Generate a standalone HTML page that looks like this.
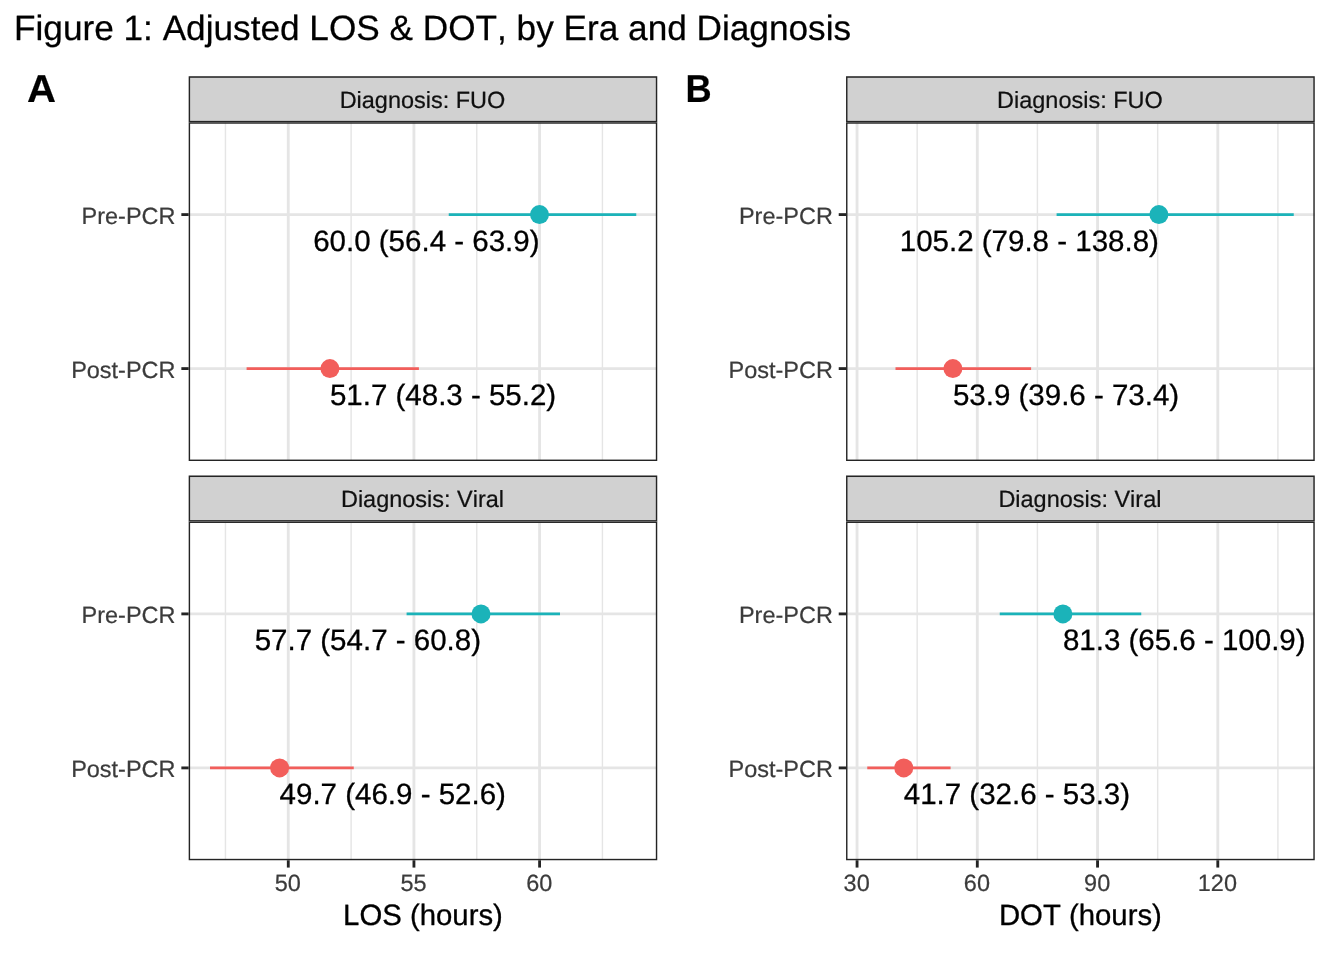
<!DOCTYPE html>
<html lang="en"><head><meta charset="utf-8"><title>Figure 1: Adjusted LOS &amp; DOT, by Era and Diagnosis</title>
<style>
html,body{margin:0;padding:0;background:#fff;}
body{width:1344px;height:960px;overflow:hidden;}
svg{display:block;font-family:"Liberation Sans",Arial,Helvetica,sans-serif;font-kerning:none;text-rendering:geometricPrecision;}
text{font-kerning:none;font-feature-settings:"kern" 0,"liga" 0;stroke-width:0.3;stroke-linejoin:round;}
.grid{stroke:#E5E5E5;fill:none;}
.bd{stroke:#242424;fill:none;}
.strip{fill:#D1D1D1;stroke:#242424;}
.tick{stroke:#242424;fill:none;}
.ax{fill:#3B3B3B;stroke:#3B3B3B;stroke-width:0.22;font-size:23.47px;}
.st{fill:#101010;stroke:#101010;stroke-width:0.22;font-size:23.47px;text-anchor:middle;}
.lab{fill:#000;stroke:#000;font-size:29.5px;}
.xt{fill:#000;stroke:#000;font-size:29.33px;text-anchor:middle;}
.title{fill:#000;stroke:#000;stroke-width:0.25;font-size:35.2px;}
.tag{fill:#000;stroke:#000;stroke-width:0.2;font-weight:bold;}
</style></head><body>
<svg width="1344" height="960" viewBox="0 0 1344 960">
<rect x="0" y="0" width="1344" height="960" fill="#ffffff"/>
<defs>
<clipPath id="cp00"><rect x="188.68" y="122.3" width="468.57" height="338.7"/></clipPath>
<clipPath id="cs00"><rect x="188.68" y="76.35" width="468.57" height="45.95"/></clipPath>
<clipPath id="cp01"><rect x="188.68" y="521.55" width="468.57" height="338.7"/></clipPath>
<clipPath id="cs01"><rect x="188.68" y="475.6" width="468.57" height="45.95"/></clipPath>
<clipPath id="cp10"><rect x="846.05" y="122.3" width="468.7" height="338.7"/></clipPath>
<clipPath id="cs10"><rect x="846.05" y="76.35" width="468.7" height="45.95"/></clipPath>
<clipPath id="cp11"><rect x="846.05" y="521.55" width="468.7" height="338.7"/></clipPath>
<clipPath id="cs11"><rect x="846.05" y="475.6" width="468.7" height="45.95"/></clipPath>
</defs>
<text class="title" x="14" y="40.4">Figure 1: Adjusted LOS &amp; DOT, by Era and Diagnosis</text>
<text class="tag" font-size="39" transform="translate(27 102.1) scale(1.03 1)">A</text>
<text class="tag" font-size="39" transform="translate(685.5 102.1) scale(0.93 1)">B</text>
<g clip-path="url(#cp00)">
<line class="grid" x1="225.45" x2="225.45" y1="122.3" y2="461" stroke-width="1.42"/>
<line class="grid" x1="351.11" x2="351.11" y1="122.3" y2="461" stroke-width="1.42"/>
<line class="grid" x1="476.77" x2="476.77" y1="122.3" y2="461" stroke-width="1.42"/>
<line class="grid" x1="602.43" x2="602.43" y1="122.3" y2="461" stroke-width="1.42"/>
<line class="grid" x1="288.28" x2="288.28" y1="122.3" y2="461" stroke-width="2.85"/>
<line class="grid" x1="413.94" x2="413.94" y1="122.3" y2="461" stroke-width="2.85"/>
<line class="grid" x1="539.6" x2="539.6" y1="122.3" y2="461" stroke-width="2.85"/>
<line class="grid" x1="188.68" x2="657.25" y1="214.6" y2="214.6" stroke-width="2.85"/>
<line class="grid" x1="188.68" x2="657.25" y1="368.6" y2="368.6" stroke-width="2.85"/>
<line x1="448.75" x2="636.25" y1="214.6" y2="214.6" stroke="#1BB3B9" stroke-width="2.9"/>
<circle cx="539.5" cy="214.6" r="9.5" fill="#1BB3B9"/>
<line x1="246.6" x2="418.9" y1="368.6" y2="368.6" stroke="#F25E5B" stroke-width="2.9"/>
<circle cx="329.9" cy="368.6" r="9.5" fill="#F25E5B"/>
<text class="lab" x="539.5" y="250.9" text-anchor="end">60.0 (56.4 - 63.9)</text>
<text class="lab" x="329.9" y="404.9" text-anchor="start">51.7 (48.3 - 55.2)</text>
<rect class="bd" x="188.68" y="122.3" width="468.57" height="338.7" stroke-width="2.85"/>
</g>
<g clip-path="url(#cs00)"><rect class="strip" x="188.68" y="76.35" width="468.57" height="45.95" stroke-width="2.85"/></g>
<text class="st" x="422.47" y="108.2">Diagnosis: FUO</text>
<line class="tick" x1="181.35" x2="188.68" y1="214.6" y2="214.6" stroke-width="2.85"/>
<text class="ax" x="175.48" y="224" text-anchor="end">Pre-PCR</text>
<line class="tick" x1="181.35" x2="188.68" y1="368.6" y2="368.6" stroke-width="2.85"/>
<text class="ax" x="175.48" y="378" text-anchor="end">Post-PCR</text>
<g clip-path="url(#cp01)">
<line class="grid" x1="225.45" x2="225.45" y1="521.55" y2="860.25" stroke-width="1.42"/>
<line class="grid" x1="351.11" x2="351.11" y1="521.55" y2="860.25" stroke-width="1.42"/>
<line class="grid" x1="476.77" x2="476.77" y1="521.55" y2="860.25" stroke-width="1.42"/>
<line class="grid" x1="602.43" x2="602.43" y1="521.55" y2="860.25" stroke-width="1.42"/>
<line class="grid" x1="288.28" x2="288.28" y1="521.55" y2="860.25" stroke-width="2.85"/>
<line class="grid" x1="413.94" x2="413.94" y1="521.55" y2="860.25" stroke-width="2.85"/>
<line class="grid" x1="539.6" x2="539.6" y1="521.55" y2="860.25" stroke-width="2.85"/>
<line class="grid" x1="188.68" x2="657.25" y1="613.9" y2="613.9" stroke-width="2.85"/>
<line class="grid" x1="188.68" x2="657.25" y1="767.9" y2="767.9" stroke-width="2.85"/>
<line x1="406.6" x2="560" y1="613.9" y2="613.9" stroke="#1BB3B9" stroke-width="2.9"/>
<circle cx="481" cy="613.9" r="9.5" fill="#1BB3B9"/>
<line x1="210" x2="353.75" y1="767.9" y2="767.9" stroke="#F25E5B" stroke-width="2.9"/>
<circle cx="279.6" cy="767.9" r="9.5" fill="#F25E5B"/>
<text class="lab" x="481" y="650.2" text-anchor="end">57.7 (54.7 - 60.8)</text>
<text class="lab" x="279.6" y="804.2" text-anchor="start">49.7 (46.9 - 52.6)</text>
<rect class="bd" x="188.68" y="521.55" width="468.57" height="338.7" stroke-width="2.85"/>
</g>
<g clip-path="url(#cs01)"><rect class="strip" x="188.68" y="475.6" width="468.57" height="45.95" stroke-width="2.85"/></g>
<text class="st" x="422.47" y="507.45">Diagnosis: Viral</text>
<line class="tick" x1="181.35" x2="188.68" y1="613.9" y2="613.9" stroke-width="2.85"/>
<text class="ax" x="175.48" y="623.3" text-anchor="end">Pre-PCR</text>
<line class="tick" x1="181.35" x2="188.68" y1="767.9" y2="767.9" stroke-width="2.85"/>
<text class="ax" x="175.48" y="777.3" text-anchor="end">Post-PCR</text>
<line class="tick" x1="288.28" x2="288.28" y1="860.25" y2="867.58" stroke-width="2.85"/>
<text class="ax" x="287.88" y="891.25" text-anchor="middle">50</text>
<line class="tick" x1="413.94" x2="413.94" y1="860.25" y2="867.58" stroke-width="2.85"/>
<text class="ax" x="413.54" y="891.25" text-anchor="middle">55</text>
<line class="tick" x1="539.6" x2="539.6" y1="860.25" y2="867.58" stroke-width="2.85"/>
<text class="ax" x="539.2" y="891.25" text-anchor="middle">60</text>
<text class="xt" x="422.97" y="925">LOS (hours)</text>
<g clip-path="url(#cp10)">
<line class="grid" x1="917.17" x2="917.17" y1="122.3" y2="461" stroke-width="1.42"/>
<line class="grid" x1="1037.42" x2="1037.42" y1="122.3" y2="461" stroke-width="1.42"/>
<line class="grid" x1="1157.67" x2="1157.67" y1="122.3" y2="461" stroke-width="1.42"/>
<line class="grid" x1="1277.92" x2="1277.92" y1="122.3" y2="461" stroke-width="1.42"/>
<line class="grid" x1="857.05" x2="857.05" y1="122.3" y2="461" stroke-width="2.85"/>
<line class="grid" x1="977.3" x2="977.3" y1="122.3" y2="461" stroke-width="2.85"/>
<line class="grid" x1="1097.55" x2="1097.55" y1="122.3" y2="461" stroke-width="2.85"/>
<line class="grid" x1="1217.8" x2="1217.8" y1="122.3" y2="461" stroke-width="2.85"/>
<line class="grid" x1="846.05" x2="1314.75" y1="214.6" y2="214.6" stroke-width="2.85"/>
<line class="grid" x1="846.05" x2="1314.75" y1="368.6" y2="368.6" stroke-width="2.85"/>
<line x1="1056.6" x2="1293.75" y1="214.6" y2="214.6" stroke="#1BB3B9" stroke-width="2.9"/>
<circle cx="1158.9" cy="214.6" r="9.5" fill="#1BB3B9"/>
<line x1="895.5" x2="1031.1" y1="368.6" y2="368.6" stroke="#F25E5B" stroke-width="2.9"/>
<circle cx="952.9" cy="368.6" r="9.5" fill="#F25E5B"/>
<text class="lab" x="1158.9" y="250.9" text-anchor="end">105.2 (79.8 - 138.8)</text>
<text class="lab" x="952.9" y="404.9" text-anchor="start">53.9 (39.6 - 73.4)</text>
<rect class="bd" x="846.05" y="122.3" width="468.7" height="338.7" stroke-width="2.85"/>
</g>
<g clip-path="url(#cs10)"><rect class="strip" x="846.05" y="76.35" width="468.7" height="45.95" stroke-width="2.85"/></g>
<text class="st" x="1079.9" y="108.2">Diagnosis: FUO</text>
<line class="tick" x1="838.72" x2="846.05" y1="214.6" y2="214.6" stroke-width="2.85"/>
<text class="ax" x="832.85" y="224" text-anchor="end">Pre-PCR</text>
<line class="tick" x1="838.72" x2="846.05" y1="368.6" y2="368.6" stroke-width="2.85"/>
<text class="ax" x="832.85" y="378" text-anchor="end">Post-PCR</text>
<g clip-path="url(#cp11)">
<line class="grid" x1="917.17" x2="917.17" y1="521.55" y2="860.25" stroke-width="1.42"/>
<line class="grid" x1="1037.42" x2="1037.42" y1="521.55" y2="860.25" stroke-width="1.42"/>
<line class="grid" x1="1157.67" x2="1157.67" y1="521.55" y2="860.25" stroke-width="1.42"/>
<line class="grid" x1="1277.92" x2="1277.92" y1="521.55" y2="860.25" stroke-width="1.42"/>
<line class="grid" x1="857.05" x2="857.05" y1="521.55" y2="860.25" stroke-width="2.85"/>
<line class="grid" x1="977.3" x2="977.3" y1="521.55" y2="860.25" stroke-width="2.85"/>
<line class="grid" x1="1097.55" x2="1097.55" y1="521.55" y2="860.25" stroke-width="2.85"/>
<line class="grid" x1="1217.8" x2="1217.8" y1="521.55" y2="860.25" stroke-width="2.85"/>
<line class="grid" x1="846.05" x2="1314.75" y1="613.9" y2="613.9" stroke-width="2.85"/>
<line class="grid" x1="846.05" x2="1314.75" y1="767.9" y2="767.9" stroke-width="2.85"/>
<line x1="999.75" x2="1141.25" y1="613.9" y2="613.9" stroke="#1BB3B9" stroke-width="2.9"/>
<circle cx="1062.9" cy="613.9" r="9.5" fill="#1BB3B9"/>
<line x1="867.25" x2="950.6" y1="767.9" y2="767.9" stroke="#F25E5B" stroke-width="2.9"/>
<circle cx="903.75" cy="767.9" r="9.5" fill="#F25E5B"/>
<text class="lab" x="1062.9" y="650.2" text-anchor="start">81.3 (65.6 - 100.9)</text>
<text class="lab" x="903.75" y="804.2" text-anchor="start">41.7 (32.6 - 53.3)</text>
<rect class="bd" x="846.05" y="521.55" width="468.7" height="338.7" stroke-width="2.85"/>
</g>
<g clip-path="url(#cs11)"><rect class="strip" x="846.05" y="475.6" width="468.7" height="45.95" stroke-width="2.85"/></g>
<text class="st" x="1079.9" y="507.45">Diagnosis: Viral</text>
<line class="tick" x1="838.72" x2="846.05" y1="613.9" y2="613.9" stroke-width="2.85"/>
<text class="ax" x="832.85" y="623.3" text-anchor="end">Pre-PCR</text>
<line class="tick" x1="838.72" x2="846.05" y1="767.9" y2="767.9" stroke-width="2.85"/>
<text class="ax" x="832.85" y="777.3" text-anchor="end">Post-PCR</text>
<line class="tick" x1="857.05" x2="857.05" y1="860.25" y2="867.58" stroke-width="2.85"/>
<text class="ax" x="856.65" y="891.25" text-anchor="middle">30</text>
<line class="tick" x1="977.3" x2="977.3" y1="860.25" y2="867.58" stroke-width="2.85"/>
<text class="ax" x="976.9" y="891.25" text-anchor="middle">60</text>
<line class="tick" x1="1097.55" x2="1097.55" y1="860.25" y2="867.58" stroke-width="2.85"/>
<text class="ax" x="1097.15" y="891.25" text-anchor="middle">90</text>
<line class="tick" x1="1217.8" x2="1217.8" y1="860.25" y2="867.58" stroke-width="2.85"/>
<text class="ax" x="1217.4" y="891.25" text-anchor="middle">120</text>
<text class="xt" x="1080.4" y="925">DOT (hours)</text>
</svg>
</body></html>
